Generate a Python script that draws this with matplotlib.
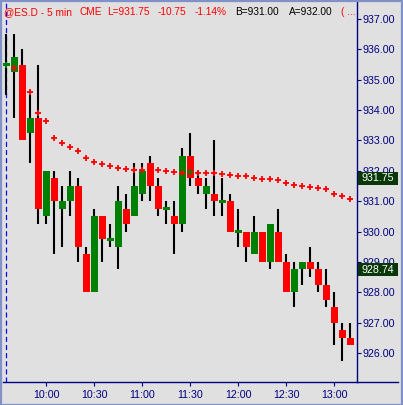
import matplotlib
matplotlib.use('Agg')
import matplotlib.pyplot as plt
import matplotlib.transforms as mtransforms
from matplotlib.patches import Rectangle
from matplotlib.lines import Line2D

plt.rcParams['font.family'] = ['Liberation Sans', 'DejaVu Sans']

# 5 min bars, index 0 = first bar on the chart
opens = [935.50, 935.25, 935.50, 933.25, 933.75, 930.50, 931.75, 930.75, 931.00, 931.50,
         929.25, 928.00, 930.50, 929.75, 929.50, 930.75, 930.50, 931.25, 932.25, 931.50,
         930.75, 930.50, 930.25, 932.50, 931.75, 931.25, 931.25, 931.00, 931.00, 930.00,
         930.00, 929.25, 930.00, 929.00, 930.00, 929.00, 928.00, 928.75, 929.00, 928.75,
         928.25, 927.50, 926.75, 926.50]
highs = [936.50, 936.50, 936.00, 934.50, 935.50, 932.00, 932.00, 931.50, 932.00, 931.75,
         929.50, 930.75, 930.50, 930.25, 931.50, 931.25, 932.25, 932.25, 932.50, 931.75,
         931.00, 931.00, 932.75, 933.25, 932.00, 931.75, 933.00, 931.75, 931.25, 930.75,
         930.00, 930.50, 930.00, 930.25, 930.75, 929.25, 929.00, 929.00, 929.50, 929.00,
         928.75, 928.00, 927.00, 927.00]
lows = [934.50, 933.75, 933.00, 932.25, 930.25, 930.25, 929.25, 929.50, 930.50, 929.00,
        928.00, 928.00, 929.00, 929.50, 928.75, 930.00, 930.50, 931.00, 931.00, 930.50,
        930.25, 929.25, 930.00, 931.50, 931.25, 930.75, 930.50, 930.50, 930.00, 929.50,
        929.00, 929.25, 929.00, 928.75, 929.00, 928.00, 927.50, 928.25, 928.50, 928.00,
        927.50, 926.25, 925.75, 926.25]
closes = [935.50, 935.75, 933.00, 933.75, 930.75, 932.00, 931.00, 931.00, 931.50, 929.50,
          928.00, 930.50, 929.75, 929.75, 931.00, 930.25, 931.50, 932.00, 931.50, 930.75,
          930.75, 930.25, 932.50, 931.75, 931.50, 931.50, 931.00, 931.00, 930.00, 930.00,
          929.50, 930.00, 929.00, 930.25, 929.00, 928.00, 928.75, 929.00, 928.75, 928.25,
          927.75, 927.00, 926.50, 926.25]
avg = [935.48, 935.38, 934.99, 934.59, 933.89, 933.63, 933.07, 932.91, 932.77, 932.64,
       932.41, 932.28, 932.21, 932.15, 932.08, 932.05, 932.02, 932.02, 931.99, 932.02,
       931.98, 931.95, 931.92, 931.95, 931.92, 931.92, 931.92, 931.88, 931.85, 931.82,
       931.82, 931.75, 931.72, 931.72, 931.69, 931.59, 931.52, 931.49, 931.46, 931.42,
       931.39, 931.23, 931.16, 931.06]
avg_green = [0, 23]

time_ticks = [5, 11, 17, 23, 29, 35, 41]
time_labels = ['10:00', '10:30', '11:00', '11:30', '12:00', '12:30', '13:00']
price_ticks = [937, 936, 935, 934, 933, 932, 931, 930, 929, 928, 927, 926]
last_labels = [931.75, 928.74]

navy = '#000080'
bg = '#E0E0E0'
W, H = 403, 405

fig = plt.figure(figsize=(W / 100, H / 100), dpi=100, facecolor=bg)
ax = fig.add_axes([3 / W, 23 / H, 354 / W, 380 / H])
ax.set_facecolor(bg)
ax.set_xlim(-0.4125, 43.84)
ax.set_ylim(925.044, 937.56)

# session start line
ax.axvline(0, color='#0000FF', lw=0.9, ls=(0, (4, 2.5)), zorder=1)

for i in range(len(opens)):
    o, h, l, c = opens[i], highs[i], lows[i], closes[i]
    ax.vlines(i, l, h, color='black', lw=1.5, zorder=2)
    col = '#008000' if c >= o else '#FF0000'
    if o == c:
        ax.bar(i, 0.1, bottom=o - 0.05, width=0.85, color=col, lw=0, zorder=3)
    else:
        ax.bar(i, abs(c - o), bottom=min(o, c), width=0.85, color=col, lw=0, zorder=3)

mcols = ['#008000' if i in avg_green else '#FF0000' for i in range(len(avg))]
for i in range(len(avg)):
    ax.plot(i, avg[i], marker='+', color=mcols[i], ms=4.8, mew=1.3, zorder=4)

for s in ['left', 'top']:
    ax.spines[s].set_visible(False)
ax.spines['right'].set_color(navy)
ax.spines['bottom'].set_color(navy)
ax.spines['right'].set_linewidth(1.0)
ax.spines['bottom'].set_linewidth(1.0)

ax.yaxis.tick_right()
ax.set_yticks(price_ticks)
ax.set_yticklabels(['%.2f' % p for p in price_ticks])
ax.set_xticks(time_ticks)
ax.set_xticklabels(time_labels)
ax.tick_params(axis='both', colors=navy, labelcolor=navy, labelsize=7.7,
               length=3, width=0.8)
ax.tick_params(axis='y', pad=1)
ax.tick_params(axis='x', pad=3)

# last value boxes on the price scale
tr = mtransforms.blended_transform_factory(fig.transFigure, ax.transData)
for v in last_labels:
    ax.add_patch(Rectangle((358 / W, v - 0.215), 40 / W, 0.43, transform=tr,
                           facecolor='#083808', edgecolor='none', clip_on=False, zorder=5))
    ax.text(362 / W, v, '%.2f' % v, transform=tr, color='white', fontsize=7.7,
            va='center', ha='left', clip_on=False, zorder=6)

# bottom axis line runs to the right edge
fig.add_artist(Line2D([357 / W, 398 / W], [23 / H, 23 / H], color=navy, lw=1.0))

# header text
ty = 1 - 11.7 / H
header = [(4.3, '@ES.D - 5 min', 'red'), (80, 'CME', 'red'), (107, 'L=931.75', 'red'),
          (158, '-10.75', 'red'), (195, '-1.14%', 'red'), (235, 'B=931.00', 'black'),
          (289, 'A=932.00', 'black'), (341, '( ...', 'red')]
for x, s, c in header:
    fig.text(x / W, ty, s, color=c, fontsize=7.3, va='center', ha='left', zorder=6)

# window border
fig.add_artist(Rectangle((0.5 / W, 0.5 / H), (W - 1.5) / W, (H - 1.5) / H,
                         transform=fig.transFigure, fill=False, edgecolor='#8090C8', lw=1.6))

fig.savefig('out.png', dpi=100, facecolor=bg)
